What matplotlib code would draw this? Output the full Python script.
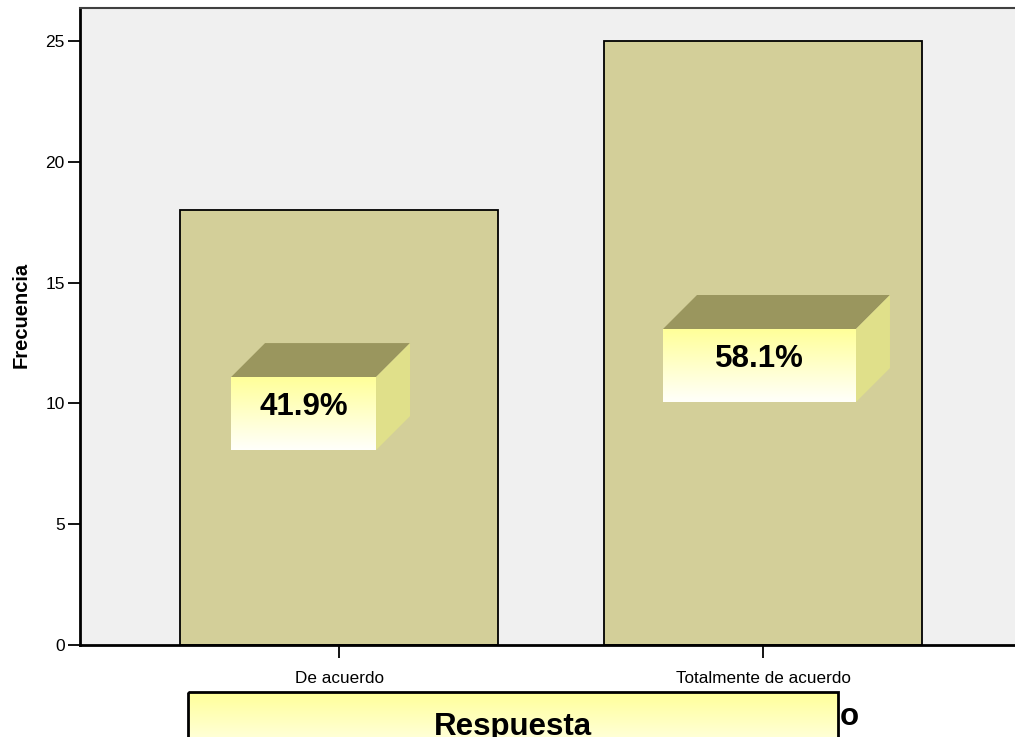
import numpy as np
import matplotlib
matplotlib.use("Agg")
import matplotlib.pyplot as plt
from matplotlib.patches import Polygon, Rectangle

# Data
categories = ["De acuerdo", "Totalmente de acuerdo"]
counts = [18, 25]
y_ticks = [0, 5, 10, 15, 20, 25]
total = sum(counts)
percent_labels = [f"{100 * c / total:.1f}%" for c in counts]

plt.rcParams["font.family"] = ["Liberation Sans", "DejaVu Sans"]

W, H = 1015, 737
fig = plt.figure(figsize=(W / 100, H / 100), dpi=100)
fig.patch.set_facecolor("white")

# main axes (right edge runs slightly past the figure)
ax_l, ax_r, ax_b, ax_t = 80, 1022, 645, 8
ax = fig.add_axes([ax_l / W, (H - ax_b) / H, (ax_r - ax_l) / W, (ax_b - ax_t) / H])
ax.set_facecolor("#F0F0F0")

x = np.arange(len(categories))
ax.bar(x, counts, width=0.75, color="#D3CF99", edgecolor="black", linewidth=1.3, zorder=2)

ax.set_xlim(-0.611, 1.611)
ax.set_ylim(0, 26.37)
ax.set_yticks(y_ticks)
ax.set_xticks(x)
ax.set_xticklabels(categories, fontsize=12.3)
ax.tick_params(axis="y", length=9, width=1.3, pad=2, labelsize=12.5, colors="black")
ax.tick_params(axis="x", length=9.5, width=1.3, pad=9, labelsize=12.3)

ax.spines["left"].set_linewidth(2)
ax.spines["bottom"].set_linewidth(2)
ax.spines["top"].set_linewidth(1.5)
ax.spines["top"].set_color("#404040")
ax.spines["right"].set_visible(False)

fig.text(21 / W, 1 - 315 / H, "Frecuencia", rotation=90, fontsize=14.5,
         fontweight="bold", ha="center", va="center")

# overlay axes in pixel coordinates for the 3D labels
ov = fig.add_axes([0, 0, 1, 1], zorder=5)
ov.set_xlim(0, W)
ov.set_ylim(H, 0)
ov.axis("off")
ov.patch.set_alpha(0)

grad = np.linspace(0, 1, 256).reshape(-1, 1)
top_rgb = np.array([1.0, 1.0, 0.6])
bot_rgb = np.array([1.0, 1.0, 0.985])
grad_img = top_rgb + (bot_rgb - top_rgb) * grad[..., None]
grad_img = grad_img.reshape(256, 1, 3)


def box3d(cx, cy, w, h, depth, text, fontsize):
    left, right = cx - w / 2, cx + w / 2
    top, bottom = cy - h / 2, cy + h / 2
    ov.add_patch(Polygon([(left, top), (left + depth, top - depth),
                          (right + depth, top - depth), (right, top)],
                         closed=True, facecolor="#9A965E", edgecolor="none"))
    ov.add_patch(Polygon([(right, top), (right + depth, top - depth),
                          (right + depth, bottom - depth), (right, bottom)],
                         closed=True, facecolor="#E0E08A", edgecolor="none"))
    ov.imshow(grad_img, extent=(left, right, bottom, top), aspect="auto",
              interpolation="bilinear", zorder=1)
    ov.text(cx, cy - 7, text, fontsize=fontsize, fontweight="bold",
            ha="center", va="center", zorder=3)


fig.canvas.draw()
label_y = [9.58, 11.57]
label_dx = [-35.5, -3.5]
label_w = [145, 193]
for i in range(len(counts)):
    dx, dy = ax.transData.transform((x[i], label_y[i]))
    box3d(dx + label_dx[i], H - dy, label_w[i], 73, 34, percent_labels[i], 22.5)

# axis title box at the bottom (partly out of frame)
bl, br, bt, bb = 188, 838, 692, 765
ov.imshow(grad_img, extent=(bl, br, bb, bt), aspect="auto",
          interpolation="bilinear", zorder=1)
ov.add_patch(Rectangle((bl, bt), br - bl, bb - bt, facecolor="none",
                       edgecolor="black", linewidth=2, zorder=2))
ov.text(849, 725, "o", fontsize=22.5, fontweight="bold", ha="center",
        va="baseline", zorder=0)
ov.text((bl + br) / 2, 734.5, "Respuesta", fontsize=22.5, fontweight="bold",
        ha="center", va="baseline", zorder=3)
ov.set_xlim(0, W)
ov.set_ylim(H, 0)

fig.savefig("out.png", dpi=100)
